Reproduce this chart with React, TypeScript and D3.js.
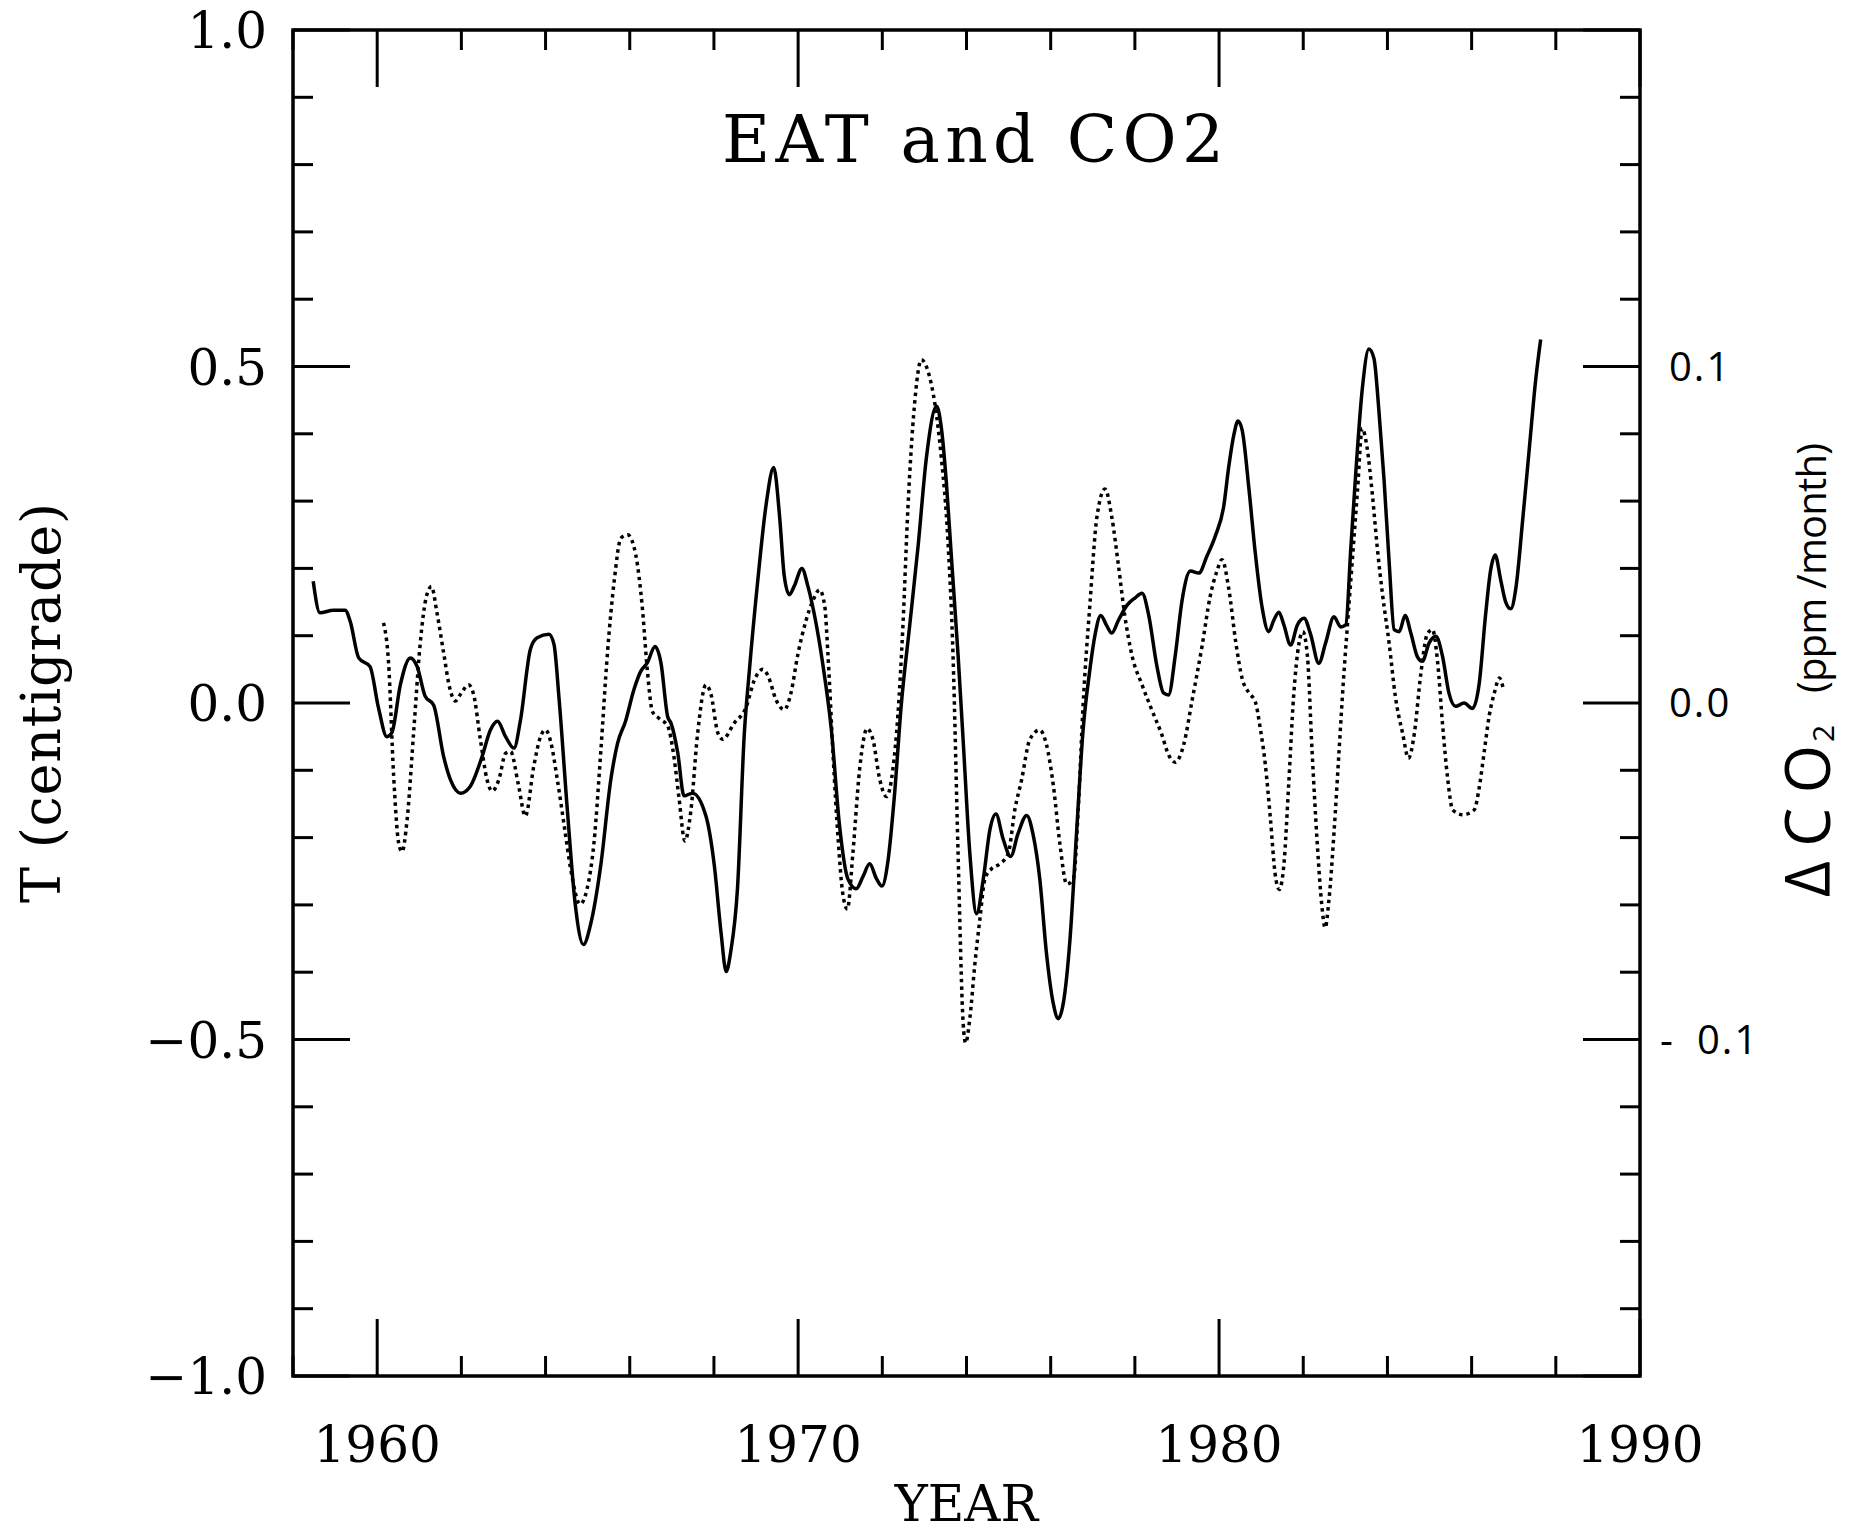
import React from "react";
import * as d3 from "d3";

// EAT (temperature anomaly, centigrade) — [year, T]
const eatSeries: [number, number][] = [
  [1958.48, 0.181], [1958.64, 0.134], [1958.96, 0.138], [1959.24, 0.138], [1959.36, 0.121],
  [1959.56, 0.067], [1959.83, 0.054], [1960.03, -0.007], [1960.23, -0.05], [1960.35, -0.044],
  [1960.55, 0.027], [1960.79, 0.067], [1960.95, 0.054], [1961.14, 0.01], [1961.34, -0.003],
  [1961.58, -0.08], [1961.74, -0.114], [1961.98, -0.134], [1962.21, -0.124], [1962.49, -0.08],
  [1962.69, -0.04], [1962.86, -0.027], [1963.05, -0.05], [1963.25, -0.067], [1963.4, -0.027],
  [1963.64, 0.08], [1963.8, 0.097], [1964.08, 0.102], [1964.2, 0.087], [1964.32, 0.007],
  [1964.52, -0.161], [1964.71, -0.302], [1964.9, -0.359], [1965.07, -0.329], [1965.31, -0.242],
  [1965.55, -0.114], [1965.71, -0.06], [1965.9, -0.027], [1966.1, 0.02], [1966.26, 0.047],
  [1966.42, 0.06], [1966.6, 0.084], [1966.74, 0.06], [1966.9, -0.02], [1966.98, -0.03],
  [1967.14, -0.074], [1967.29, -0.138], [1967.49, -0.134], [1967.81, -0.168], [1968.01, -0.242],
  [1968.17, -0.342], [1968.29, -0.399], [1968.4, -0.369], [1968.56, -0.275], [1968.72, -0.047],
  [1968.84, 0.047], [1969.04, 0.181], [1969.24, 0.295], [1969.42, 0.35], [1969.56, 0.277],
  [1969.67, 0.189], [1969.79, 0.161], [1969.91, 0.174], [1970.09, 0.2], [1970.23, 0.174],
  [1970.39, 0.13], [1970.59, 0.056], [1970.79, -0.04], [1970.98, -0.18], [1971.18, -0.261],
  [1971.38, -0.276], [1971.54, -0.258], [1971.7, -0.239], [1971.86, -0.261], [1971.99, -0.272],
  [1972.14, -0.232], [1972.29, -0.136], [1972.45, -0.003], [1972.65, 0.115], [1972.85, 0.233],
  [1973.05, 0.366], [1973.29, 0.441], [1973.4, 0.41], [1973.52, 0.329], [1973.64, 0.218],
  [1973.8, 0.071], [1973.92, -0.055], [1974.08, -0.224], [1974.24, -0.313], [1974.4, -0.261],
  [1974.56, -0.187], [1974.7, -0.165], [1974.87, -0.202], [1975.05, -0.228], [1975.22, -0.195],
  [1975.43, -0.167], [1975.58, -0.195], [1975.74, -0.261], [1975.9, -0.372], [1976.06, -0.446],
  [1976.18, -0.469], [1976.3, -0.446], [1976.46, -0.35], [1976.62, -0.187], [1976.77, -0.04],
  [1976.93, 0.049], [1977.05, 0.1], [1977.19, 0.13], [1977.33, 0.115], [1977.45, 0.104],
  [1977.61, 0.123], [1977.81, 0.145], [1978.0, 0.156], [1978.17, 0.163], [1978.33, 0.13],
  [1978.52, 0.056], [1978.68, 0.015], [1978.8, 0.012], [1978.96, 0.071], [1979.12, 0.152],
  [1979.32, 0.196], [1979.52, 0.193], [1979.71, 0.218], [1979.91, 0.248], [1980.11, 0.292],
  [1980.23, 0.351], [1980.35, 0.398], [1980.45, 0.419], [1980.55, 0.405], [1980.71, 0.318],
  [1980.86, 0.223], [1981.02, 0.143], [1981.18, 0.106], [1981.3, 0.123], [1981.42, 0.135],
  [1981.54, 0.116], [1981.7, 0.086], [1981.86, 0.116], [1982.02, 0.126], [1982.17, 0.103],
  [1982.37, 0.059], [1982.53, 0.089], [1982.73, 0.128], [1982.89, 0.113], [1983.01, 0.116],
  [1983.13, 0.23], [1983.25, 0.344], [1983.4, 0.465], [1983.56, 0.526], [1983.68, 0.512],
  [1983.8, 0.432], [1983.92, 0.331], [1984.04, 0.21], [1984.16, 0.109], [1984.28, 0.106],
  [1984.42, 0.13], [1984.56, 0.103], [1984.71, 0.069], [1984.83, 0.062], [1984.99, 0.089],
  [1985.15, 0.099], [1985.31, 0.069], [1985.46, 0.015], [1985.62, -0.005], [1985.82, 0.0],
  [1986.02, -0.008], [1986.18, 0.029], [1986.33, 0.13], [1986.45, 0.197], [1986.56, 0.22],
  [1986.69, 0.183], [1986.81, 0.15], [1986.93, 0.14], [1987.05, 0.17], [1987.21, 0.27],
  [1987.37, 0.378], [1987.52, 0.479], [1987.64, 0.54],
];

// Delta CO2 (ppm / month) — [year, dCO2]
const co2Series: [number, number][] = [
  [1960.15, 0.0238], [1960.27, 0.012], [1960.39, -0.0214], [1960.51, -0.0416], [1960.59, -0.0442],
  [1960.71, -0.0348], [1960.87, -0.008], [1961.02, 0.0174], [1961.18, 0.0322], [1961.29, 0.0346],
  [1961.42, 0.0268], [1961.58, 0.0148], [1961.72, 0.0046], [1961.86, 0.0006], [1961.98, 0.0026],
  [1962.17, 0.0054], [1962.29, 0.0026], [1962.45, -0.0108], [1962.61, -0.0228], [1962.73, -0.0262],
  [1962.89, -0.0228], [1963.05, -0.015], [1963.17, -0.0144], [1963.35, -0.024], [1963.52, -0.0336],
  [1963.72, -0.0188], [1963.88, -0.01], [1964.0, -0.008], [1964.12, -0.0114], [1964.28, -0.0228],
  [1964.44, -0.0362], [1964.6, -0.0496], [1964.82, -0.0598], [1964.99, -0.055], [1965.15, -0.0416],
  [1965.31, -0.0148], [1965.47, 0.0148], [1965.63, 0.0362], [1965.79, 0.049], [1965.95, 0.05],
  [1966.14, 0.0442], [1966.3, 0.0282], [1966.42, 0.0094], [1966.54, -0.0026], [1966.7, -0.0046],
  [1966.9, -0.0068], [1967.05, -0.016], [1967.17, -0.0282], [1967.31, -0.041], [1967.45, -0.0322],
  [1967.61, -0.0094], [1967.81, 0.0054], [1967.93, 0.0026], [1968.09, -0.0088], [1968.21, -0.0108],
  [1968.48, -0.006], [1968.76, -0.0014], [1968.96, 0.0068], [1969.16, 0.01], [1969.28, 0.0082],
  [1969.48, 0.0008], [1969.67, -0.002], [1969.83, 0.003], [1969.99, 0.0142], [1970.19, 0.0246],
  [1970.35, 0.0304], [1970.51, 0.0336], [1970.63, 0.029], [1970.71, 0.0142], [1970.83, -0.0154],
  [1970.95, -0.0404], [1971.06, -0.0566], [1971.17, -0.0612], [1971.3, -0.0448], [1971.46, -0.0198],
  [1971.64, -0.0076], [1971.78, -0.011], [1971.94, -0.0228], [1972.1, -0.0278], [1972.25, -0.0198],
  [1972.37, -0.0036], [1972.49, 0.023], [1972.61, 0.0584], [1972.76, 0.088], [1972.93, 0.102],
  [1973.09, 0.0984], [1973.25, 0.0888], [1973.4, 0.0732], [1973.56, 0.048], [1973.68, 0.0142],
  [1973.8, -0.0448], [1973.92, -0.095], [1973.98, -0.101], [1974.08, -0.0936], [1974.2, -0.0774],
  [1974.32, -0.064], [1974.44, -0.0522], [1974.6, -0.0492], [1974.79, -0.0478], [1974.99, -0.0448],
  [1975.15, -0.0316], [1975.31, -0.0228], [1975.5, -0.011], [1975.74, -0.008], [1975.9, -0.0124],
  [1976.06, -0.0242], [1976.22, -0.042], [1976.38, -0.0538], [1976.54, -0.0522], [1976.66, -0.0302],
  [1976.77, -0.0006], [1976.93, 0.029], [1977.1, 0.0554], [1977.29, 0.0636], [1977.45, 0.0554],
  [1977.61, 0.0408], [1977.76, 0.026], [1977.93, 0.0142], [1978.17, 0.0054], [1978.4, -0.002],
  [1978.64, -0.0094], [1978.8, -0.0154], [1978.96, -0.0176], [1979.16, -0.0124], [1979.36, 0.0008],
  [1979.6, 0.0172], [1979.79, 0.0318], [1979.95, 0.0392], [1980.07, 0.0426], [1980.23, 0.034],
  [1980.4, 0.0178], [1980.55, 0.0072], [1980.71, 0.003], [1980.86, 0.0004], [1980.98, -0.0076],
  [1981.1, -0.0184], [1981.22, -0.0344], [1981.33, -0.0506], [1981.43, -0.0554], [1981.54, -0.048],
  [1981.65, -0.0252], [1981.77, 0.0018], [1981.9, 0.0178], [1981.99, 0.0212], [1982.1, 0.0138],
  [1982.21, -0.0144], [1982.33, -0.0412], [1982.44, -0.06], [1982.52, -0.0668], [1982.61, -0.0586],
  [1982.73, -0.0386], [1982.85, -0.0144], [1982.95, 0.0058], [1983.05, 0.0232], [1983.18, 0.0448],
  [1983.29, 0.0634], [1983.4, 0.0816], [1983.52, 0.0756], [1983.64, 0.0622], [1983.76, 0.046],
  [1983.88, 0.0326], [1984.04, 0.0178], [1984.19, 0.0018], [1984.36, -0.009], [1984.5, -0.0164],
  [1984.64, -0.009], [1984.79, 0.0084], [1984.95, 0.0206], [1985.07, 0.0218], [1985.19, 0.0124],
  [1985.31, -0.0064], [1985.43, -0.0224], [1985.55, -0.0318], [1985.79, -0.0332], [1986.06, -0.0318],
  [1986.18, -0.0252], [1986.3, -0.0144], [1986.42, -0.0036], [1986.54, 0.003], [1986.66, 0.0074],
  [1986.75, 0.0044],
];

const yearLabels = [1960, 1970, 1980, 1990];
const tempLabels = [-1.0, -0.5, 0.0, 0.5, 1.0];
const co2Labels = [-0.1, 0.0, 0.1];

const W = 1849;
const H = 1534;
const L = 293;
const R = 1640;
const T = 30;
const B = 1376;

const serif = "'DejaVu Serif', serif";
const hand = "'Open Sans', sans-serif";

export default function App() {
  const x = d3.scaleLinear().domain([1958, 1990]).range([L, R]);
  const yT = d3.scaleLinear().domain([-1, 1]).range([B, T]);
  const yC = d3.scaleLinear().domain([-0.2, 0.2]).range([B, T]);

  const eatLine = d3
    .line<[number, number]>()
    .x((d) => x(d[0]))
    .y((d) => yT(d[1]))
    .curve(d3.curveMonotoneX);
  const co2Line = d3
    .line<[number, number]>()
    .x((d) => x(d[0]))
    .y((d) => yC(d[1]))
    .curve(d3.curveMonotoneX);

  const yTicks = d3.range(-10, 11).map((i) => i / 10);
  const xTicks = d3.range(1958, 1991, 2);
  const MAJ = 57;
  const MIN = 20;
  const fmt = d3.format(".1f");

  return (
    <div style={{ position: "absolute", left: 0, top: 0, width: W, height: H, background: "#fff" }}>
      <svg width={W} height={H} viewBox={`0 0 ${W} ${H}`}>
        <rect x={0} y={0} width={W} height={H} fill="#fff" />
        {/* frame */}
        <rect x={L} y={T} width={R - L} height={B - T} fill="none" stroke="#000" strokeWidth={3.5} />

        {/* y ticks left & right */}
        {yTicks.map((v, i) => {
          const major = Math.round(v * 10) % 5 === 0;
          const len = major ? MAJ : MIN;
          const yy = yT(v);
          return (
            <g key={"yt" + i}>
              <line x1={L} x2={L + len} y1={yy} y2={yy} stroke="#000" strokeWidth={3} />
              <line x1={R} x2={R - len} y1={yy} y2={yy} stroke="#000" strokeWidth={3} />
            </g>
          );
        })}

        {/* x ticks top & bottom */}
        {xTicks.map((v) => {
          const major = v % 10 === 0;
          const len = major ? MAJ : MIN;
          const xx = x(v);
          return (
            <g key={"xt" + v}>
              <line x1={xx} x2={xx} y1={B} y2={B - len} stroke="#000" strokeWidth={3} />
              <line x1={xx} x2={xx} y1={T} y2={T + len} stroke="#000" strokeWidth={3} />
            </g>
          );
        })}

        {/* left tick labels */}
        {tempLabels.map((v) => (
          <text
            key={"tl" + v}
            x={267}
            y={yT(v) + 18}
            textAnchor="end"
            fontFamily={serif}
            fontSize={50}
            fill="#000"
          >
            {fmt(v)}
          </text>
        ))}

        {/* bottom tick labels */}
        {yearLabels.map((v) => (
          <text
            key={"xl" + v}
            x={x(v)}
            y={1462}
            textAnchor="middle"
            fontFamily={serif}
            fontSize={50}
            fill="#000"
          >
            {v}
          </text>
        ))}

        {/* right tick labels (hand-lettered) */}
        {co2Labels.map((v) => {
          const yy = yC(v) + 14;
          if (v < 0) {
            return (
              <g key={"cl" + v}>
                <text x={1660} y={yy} fontFamily={hand} fontSize={40} fill="#000">-</text>
                <text x={1697} y={yy} fontFamily={hand} fontSize={40} letterSpacing={2} fill="#000">
                  {fmt(Math.abs(v))}
                </text>
              </g>
            );
          }
          return (
            <text key={"cl" + v} x={1669} y={yy} fontFamily={hand} fontSize={40} letterSpacing={2} fill="#000">
              {fmt(v)}
            </text>
          );
        })}

        {/* title */}
        <text
          x={722}
          y={162}
          fontFamily={serif}
          fontSize={66}
          textLength={502}
          lengthAdjust="spacing"
          fill="#000"
        >
          EAT and CO2
        </text>

        {/* x axis title */}
        <text
          x={(L + R) / 2}
          y={1521}
          textAnchor="middle"
          fontFamily={serif}
          fontSize={50}
          fill="#000"
        >
          YEAR
        </text>

        {/* left axis title */}
        <text
          transform={`translate(60, ${yT(0)}) rotate(-90)`}
          textAnchor="middle"
          fontFamily={serif}
          fontSize={54}
          textLength={400}
          lengthAdjust="spacing"
          fill="#000"
        >
          T (centigrade)
        </text>

        {/* right axis title */}
        <text
          transform="translate(1830, 897) rotate(-90)"
          fontFamily={hand}
          fontSize={62}
          textLength={152}
          lengthAdjust="spacing"
          fill="#000"
        >
          ΔCO
        </text>
        <text
          transform="translate(1834, 742) rotate(-90)"
          fontFamily={hand}
          fontSize={30}
          fill="#000"
        >
          2
        </text>
        <text
          transform="translate(1826, 693) rotate(-90)"
          fontFamily={hand}
          fontSize={40}
          textLength={250}
          lengthAdjust="spacing"
          fill="#000"
        >
          (ppm /month)
        </text>

        {/* data */}
        <path d={co2Line(co2Series) || ""} fill="none" stroke="#000" strokeWidth={3.5} strokeDasharray="3.5 4" />
        <path d={eatLine(eatSeries) || ""} fill="none" stroke="#000" strokeWidth={3.5} strokeLinejoin="round" />
      </svg>
    </div>
  );
}
